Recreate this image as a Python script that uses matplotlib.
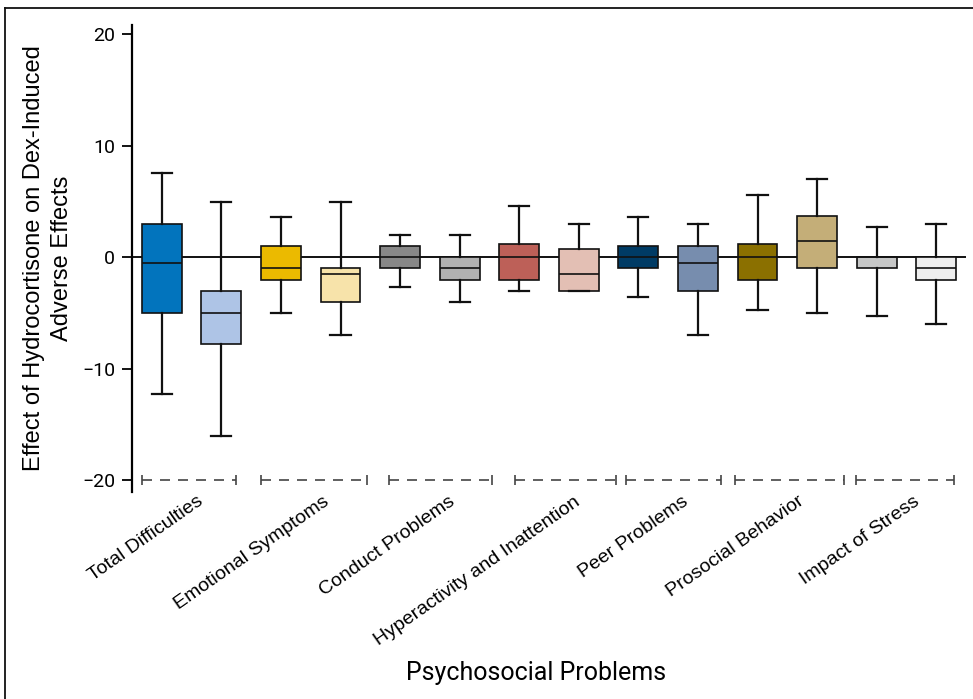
import matplotlib
matplotlib.use('Agg')
import matplotlib.pyplot as plt
from matplotlib.lines import Line2D
import matplotlib.transforms as mtransforms

# data (two boxes per category)
categories = ['Total Difficulties', 'Emotional Symptoms', 'Conduct Problems',
              'Hyperactivity and Inattention', 'Peer Problems',
              'Prosocial Behavior', 'Impact of Stress']
whis_hi = [7.6, 5.0, 3.6, 5.0, 2.0, 2.0, 4.6, 3.0, 3.6, 3.0, 5.6, 7.0, 2.7, 3.0]
q3 = [3.0, -3.0, 1.0, -1.0, 1.0, 0.0, 1.2, 0.7, 1.0, 1.0, 1.2, 3.7, 0.0, 0.0]
medians = [-0.5, -5.0, -1.0, -1.5, 0.0, -1.0, 0.0, -1.5, 0.0, -0.5, 0.0, 1.5, 0.0, -1.0]
q1 = [-5.0, -7.8, -2.0, -4.0, -1.0, -2.0, -2.0, -3.0, -1.0, -3.0, -2.0, -1.0, -1.0, -2.0]
whis_lo = [-12.3, -16.0, -5.0, -7.0, -2.7, -4.0, -3.0, -3.0, -3.6, -7.0, -4.7, -5.0, -5.3, -6.0]
box_colors = ['#0274BD', '#AEC4E6', '#EBBA00', '#F7E3AA', '#888888', '#B2B2B2',
              '#BD6058', '#E3BFB4', '#003B65', '#778DAE', '#8B7000', '#C4AE78',
              '#C6C7C7', '#EEEEEE']
# group brackets along the bottom (start, end in box positions)
group_spans = [(-0.33, 1.24), (1.66, 3.45), (3.81, 5.54), (5.93, 7.62),
               (7.80, 9.39), (9.63, 11.45), (11.66, 13.3)]

narrow = ['Roboto', 'DejaVu Sans']
plt.rcParams['font.family'] = ['Liberation Sans', 'DejaVu Sans']

fig = plt.figure(figsize=(9.73, 6.99), dpi=100)
ax = fig.add_axes([132 / 973, 1 - 491.7 / 699, (966 - 132) / 973, (491.7 - 25) / 699])

# zero reference line
ax.axhline(0, color='#111111', lw=1.4, zorder=1)

stats = []
for i in range(len(medians)):
    stats.append({'med': medians[i], 'q1': q1[i], 'q3': q3[i],
                  'whislo': whis_lo[i], 'whishi': whis_hi[i], 'fliers': []})
pos = list(range(len(stats)))
bp = ax.bxp(stats, positions=pos, widths=0.67, patch_artist=True,
            showfliers=False, capwidths=0.34,
            boxprops=dict(linewidth=1.2, edgecolor='#111111'),
            medianprops=dict(color='#111111', linewidth=1.2),
            whiskerprops=dict(color='#111111', linewidth=1.6),
            capprops=dict(color='#111111', linewidth=1.6))
for patch, c in zip(bp['boxes'], box_colors):
    patch.set_facecolor(c)
    patch.set_zorder(2)

# dashed group brackets at -20
for a, b in group_spans:
    ax.plot([a, b], [-20, -20], color='#444444', lw=1.2, dashes=(6, 4.8), zorder=1)
    ax.plot([a, b], [-20, -20], ls='none', marker='|', ms=7, mew=1.2, color='#444444')

# category labels
offset = mtransforms.ScaledTranslation(8 / 100, -6 / 100, fig.dpi_scale_trans)
for (a, b), name in zip(group_spans, categories):
    ax.text((a + b) / 2, -20.6, name, rotation=35, rotation_mode='anchor',
            ha='right', va='top', fontsize=14, transform=ax.transData + offset)

ax.set_xlim(-0.5, 13.5)
ax.set_ylim(-21.02, 20.83)
ax.set_xticks([])
ax.set_yticks([-20, -10, 0, 10, 20])
ax.set_yticklabels(['\u221220', '\u221210', '0', '10', '20'], family=narrow, fontsize=14)
ax.tick_params(axis='y', direction='out', length=7, width=1.3, pad=5)
for s in ['top', 'right', 'bottom']:
    ax.spines[s].set_visible(False)
ax.spines['left'].set_linewidth(1.6)

fig.text(48 / 973, 1 - 258 / 699, 'Effect of Hydrocortisone on Dex-Induced\nAdverse Effects',
         rotation=90, ha='center', va='center', multialignment='center', fontsize=17,
         linespacing=1.35)
fig.text(536 / 973, 1 - 673 / 699, 'Psychosocial Problems', ha='center', va='center',
         family=narrow, fontsize=18)

# frame lines (top and left)
fig.add_artist(Line2D([5 / 973, 5 / 973], [0, 1 - 8 / 699], transform=fig.transFigure,
                      color='#111111', lw=1.3))
fig.add_artist(Line2D([5 / 973, 1], [1 - 8 / 699, 1 - 8 / 699], transform=fig.transFigure,
                      color='#111111', lw=1.3))

fig.savefig('out.png', dpi=100)
